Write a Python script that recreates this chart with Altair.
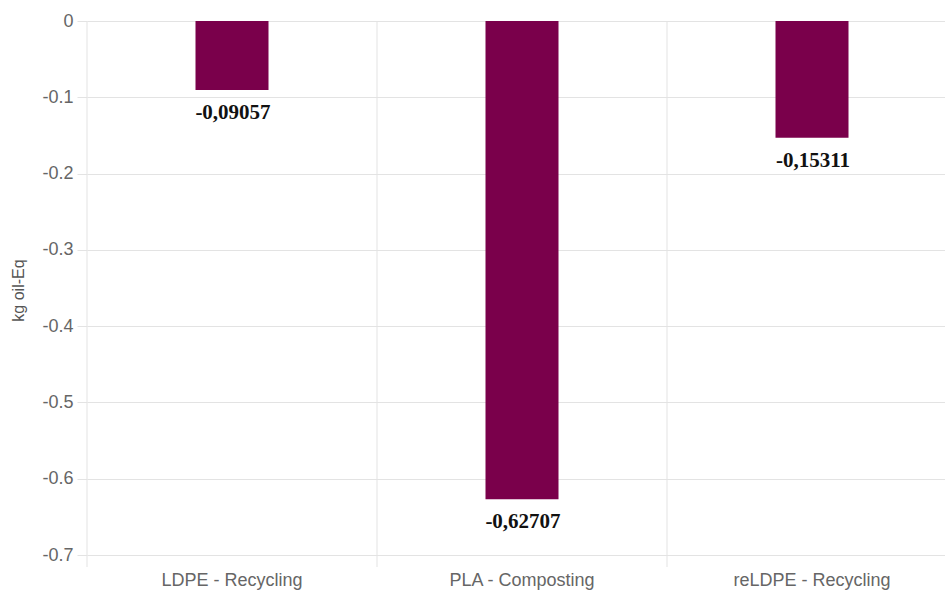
import altair as alt
import pandas as pd

categories = ["LDPE - Recycling", "PLA - Composting", "reLDPE - Recycling"]
values = [-0.09057, -0.62707, -0.15311]
value_labels = ["-0,09057", "-0,62707", "-0,15311"]
y_ticks = [0, -0.1, -0.2, -0.3, -0.4, -0.5, -0.6, -0.7]

df = pd.DataFrame({"cat": categories, "value": values, "label": value_labels})

W, H = 858, 534
grid_color = "#e3e3e3"

xscale = alt.Scale(domain=categories, range=[0, 870], paddingInner=0, paddingOuter=0)
yscale = alt.Scale(domain=[-0.7, 0], nice=False)

xaxis = alt.Axis(title=None, ticks=False, domain=False, grid=False, labelAngle=0,
                 labelFontSize=18, labelColor="#666666", labelFont="Liberation Sans",
                 labelPadding=16)
yaxis = alt.Axis(title="kg oil-Eq", values=y_ticks, domain=False, grid=True,
                 gridColor=grid_color, tickColor=grid_color, tickSize=10,
                 labelFontSize=18, labelColor="#666666", labelFont="Liberation Sans",
                 labelPadding=4,
                 labelExpr="datum.value == 0 ? '0' : '-' + format(abs(datum.value), '.1f')",
                 titleFont="Liberation Sans", titleFontSize=16, titleFontWeight="normal",
                 titleColor="#555555", titleX=-69, titleY=H / 2 + 2, titleAngle=-90,
                 titleAlign="center", titleBaseline="middle")

rules = alt.Chart(df).mark_rule(color=grid_color, strokeWidth=1).encode(
    x=alt.X("cat:N", scale=xscale, axis=xaxis, bandPosition=0, sort=categories),
    y=alt.value(0),
    y2=alt.value(H + 12),
)

bars = alt.Chart(df).mark_bar(color="#7a004b", size=73).encode(
    x=alt.X("cat:N", scale=xscale, axis=xaxis, sort=categories),
    y=alt.Y("value:Q", scale=yscale, axis=yaxis),
)

texts = alt.Chart(df).mark_text(
    font="Liberation Serif", fontWeight="bold", fontSize=21, color="#111111",
    baseline="top", dy=12, dx=1,
).encode(
    x=alt.X("cat:N", scale=xscale, axis=xaxis, sort=categories),
    y=alt.Y("value:Q", scale=yscale, axis=yaxis),
    text="label:N",
)

chart = alt.layer(rules, bars, texts).properties(
    width=W, height=H,
    autosize=alt.AutoSizeParams(type="none"),
    padding={"left": 87, "top": 21, "right": 0, "bottom": 35},
    background="white",
).configure_view(stroke=None)

chart.save("out.html", embed_options={"renderer": "svg", "actions": False})
